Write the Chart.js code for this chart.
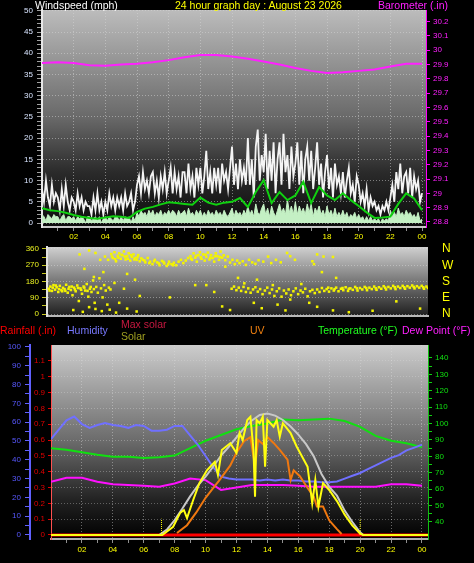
<!DOCTYPE html>
<html>
<head>
<meta charset="utf-8">
<script src="https://cdn.jsdelivr.net/npm/chart.js@4.4.0/dist/chart.umd.min.js"></script>
<style>
body { margin:0; background:#000; width:474px; height:563px; overflow:hidden; position:relative; font-family:"Liberation Sans", Arial, sans-serif; }
canvas { position:absolute; left:0; }
.t { position:absolute; font-size:10.5px; line-height:10.5px; white-space:nowrap; z-index:2; }
</style>
</head>
<body>
<canvas id="windChart" width="474" height="245" style="top:0"></canvas>
<canvas id="dirChart" width="474" height="83" style="top:240px"></canvas>
<canvas id="climateChart" width="474" height="227" style="top:336px"></canvas>

<div class="t" style="left:35px;top:0;color:#ffffff">Windspeed (mph)</div>
<div class="t" style="left:175px;top:0;color:#ffff00">24 hour graph day : August 23 2026</div>
<div class="t" style="left:378px;top:0;color:#ff20ff">Barometer (.in)</div>

<div class="t" style="left:0;top:325px;color:#ff0000">Rainfall (.in)</div>
<div class="t" style="left:67px;top:325px;color:#7878ff">Humidity</div>
<div class="t" style="left:121px;top:319px;color:#c81840">Max solar</div>
<div class="t" style="left:121px;top:331px;color:#a0a020">Solar</div>
<div class="t" style="left:250px;top:325px;color:#f08010">UV</div>
<div class="t" style="left:318px;top:325px;color:#20ff20">Temperature (°F)</div>
<div class="t" style="left:402px;top:325px;color:#ff20ff">Dew Point (°F)</div>

<script>
// ---- wind speed panel ----
// gusts and speed every 7.5 min (8 per hour), average every 30 min, barometer hourly
const windGust = [
  8,5,10,6,4,9,5,7,   6,3,8,4,9,5,3,6,   5,3,7,4,6,3,5,4,   4,2,6,3,7,3,5,2,
  5,3,7,4,6,3,6,4,   6,3,7,4,5,7,3,5,   9,11,7,12,8,10,7,11,   12,7,10,6,11,8,12,7,
  10,13,7,12,8,11,6,12,   12,7,14,8,11,6,13,9,   13,7,11,17,8,12,7,13,   9,13,7,14,10,12,8,13,
  18,9,14,8,15,10,13,9,   20,9,15,6,18,22,10,16,   12,21,8,17,10,19,7,15,   19,9,21,12,16,8,18,11,
  14,19,9,17,7,15,18,10,   17,8,13,19,9,14,6,12,   16,8,13,6,14,9,11,7,   12,6,10,13,7,9,5,11,
  9,5,7,4,8,3,6,4,   5,3,4,2,4,3,5,3,   6,9,5,12,8,14,7,11,   12,7,13,6,11,8,10,5,   7
];
const windSpeed = [
  2,1.5,0.5,2,1.5,1,2,1.5,   1.5,0.5,1.5,2,0.5,1.5,1.5,1,   1.5,0.5,1.5,1,1.5,1,0,1.5,   1.5,0.5,1,1.5,0.5,1.5,0,1,
  1.5,0.5,1.5,1,0.5,1.5,1.5,0.5,   1.5,0.5,1.5,1,1.5,0,1.5,0.5,   2.5,1.5,3,2,2.5,1.5,3,2,   3,1.5,2.5,2,3,1.5,2.5,2,
  3,2,3,2.5,1.5,3,2,2.5,   3,1.5,3.5,2,2.5,1.5,3,2,   3,1.5,2.5,1.5,3,2,2.5,1.5,   3,2,2.5,1.5,3,2,1.5,2.5,
  3.5,1.5,3,2,2.5,1.5,3,2,   4,2,3,1.5,4.5,2.5,2,3.5,   4.5,2,3.5,1.5,4,2.5,1.5,3,   4.5,2.5,3.5,2,5.5,2.5,4,2,
  5,2,4,2.5,3.5,2,4.5,2.5,   4.5,1.5,3.5,2.5,4,2,3,1.5,   4,2,3,1.5,3.5,1.5,2.5,1.5,   3,1.5,2.5,1,2,1.5,2.5,1,
  2,1,1.5,0.5,1.5,0.5,1.5,0.5,   1,0.5,1,0,1,0.5,1,0.5,   3,1.5,2.5,1.5,3.5,2,2.5,1.5,   3,2,2.5,1.5,2,1,2.5,0.5,   1
];
const windAvg = [
  3.5,3.0, 2.8,2.4, 1.9,1.5, 1.2,1.0, 1.3,1.6, 1.5,1.2,
  2.6,3.4, 3.8,4.4, 4.9,4.7, 4.5,4.3, 6.0,4.8, 4.3,4.8,
  5.0,5.9, 3.8,7.3, 10.1,4.7, 7.3,5.4, 6.5,9.7, 4.7,8.5,
  6.5,5.4, 7.0,5.4, 4.0,2.5, 1.2,1.3, 1.5,4.5, 7.0,5.8, 3.0
];
const barometer = [
  29.91, 29.915, 29.91, 29.895, 29.89, 29.9, 29.905, 29.915, 29.93, 29.95, 29.965, 29.965,
  29.955, 29.94, 29.92, 29.9, 29.875, 29.855, 29.84, 29.845, 29.855, 29.865, 29.885, 29.905, 29.905
];

// ---- wind direction panel: [hour, degrees] ----
const windDir = [
  [0.05,140],[0.15,152],[0.25,128],[0.35,160],[0.45,135],[0.55,148],[0.65,122],[0.75,156],[0.85,132],[0.95,145],
  [0.1,130],[0.3,146],[0.5,158],[0.7,138],[0.9,126],
  [1.05,138],[1.15,162],[1.25,118],[1.35,150],[1.45,133],[1.55,104],[1.65,146],[1.75,126],[1.85,158],[1.95,72],
  [1.1,128],[1.3,140],[1.5,152],[1.7,136],[1.9,144],
  [2.05,142],[2.15,112],[2.25,152],[2.35,130],[2.45,166],[2.55,96],[2.65,140],[2.75,122],[2.85,186],[2.95,62],
  [2.1,134],[2.3,146],[2.5,128],[2.7,150],[2.9,138],
  [3.05,150],[3.15,118],[3.25,198],[3.35,142],[3.45,92],[3.55,160],[3.65,130],[3.75,52],[3.85,146],[3.95,136],
  [1.6,22],[2.2,12],[2.6,38],[3.0,28],[3.4,16],[3.9,24],[4.3,8],[5.0,30],[5.6,14],
  [2.0,330],[2.3,250],[2.6,352],[2.9,205],[3.0,338],[3.3,300],[3.5,232],
  [3.6,318],[3.8,300],[4.0,332],[4.1,310],[4.2,342],[4.3,292],[4.4,322],[4.5,336],[4.6,306],[4.7,326],
  [4.8,346],[4.9,302],[5.0,320],[5.1,336],[5.2,296],[5.3,316],[5.4,330],[5.5,310],[5.6,300],[5.7,326],
  [4.05,318],[4.25,304],[4.45,312],[4.65,328],[4.85,318],[5.05,306],[5.25,326],[5.45,302],[5.65,314],
  [5.8,292],[5.9,308],[6.0,300],[6.15,286],[6.3,310],[6.45,290],[6.6,276],[6.75,300],[6.9,286],[7.05,270],
  [7.2,294],[7.35,280],[7.5,266],[7.65,290],[7.8,276],[7.95,284],[8.1,270],
  [6.1,296],[6.4,282],[6.7,292],[7.0,280],[7.3,288],[7.6,276],[7.9,270],
  [8.25,290],[8.4,300],[8.55,282],[8.7,296],[8.85,310],[9.0,320],[9.1,300],[9.2,336],[9.3,312],[9.4,290],
  [9.5,326],[9.6,342],[9.7,306],[9.8,330],[9.9,296],[10.0,316],[10.1,340],[10.2,302],[10.3,326],[10.4,310],
  [10.5,290],[10.6,336],[10.7,320],[10.8,300],[10.9,346],[11.0,312],[11.1,325],[11.2,298],[11.35,318],
  [9.05,306],[9.35,322],[9.65,314],[9.95,328],[10.25,312],[10.55,320],[10.85,316],
  [11.5,285],[11.65,300],[11.8,276],[11.95,296],[12.1,282],[12.3,292],[12.5,272],[12.7,300],[12.9,286],[13.1,278],[13.3,298],
  [13.6,290],[13.9,318],[14.1,282],[14.4,300],[14.7,286],[15.1,338],[15.3,320],[15.6,300],[16.7,292],[16.8,276],[17.0,330],[17.4,318],[18.0,316],
  [4.2,172],[4.5,62],[4.8,140],[5.0,222],[5.5,190],[5.8,100],[7.7,92],[9.3,160],[10.0,160],[10.5,122],
  [11.0,42],[11.2,262],[11.5,22],[12.0,200],[12.4,170],[13.0,62],[13.2,190],[13.5,32],[14.2,160],[14.5,52],
  [15.0,20],[15.3,80],[16.0,166],[16.5,62],[17.0,40],[17.3,232],[18.0,20],[18.2,200],[19.0,10],[20.5,18],[22.0,70],[23.5,30],
  [11.6,140],[11.75,152],[11.9,132],[12.05,146],[12.2,128],[12.35,150],[12.5,122],[12.65,142],[12.8,118],[12.95,136],
  [13.1,148],[13.25,124],[13.4,138],[13.55,110],[13.7,130],[13.85,146],[14.0,116],[14.15,136],[14.3,100],[14.45,126],
  [14.6,142],[14.75,96],[14.9,130],[15.05,114],[15.2,136],[15.35,104],[15.5,126],[15.65,142],[15.8,110],[15.95,130],
  [16.1,120],[16.25,140],[16.4,98],[16.55,126],[16.7,134],[16.85,116],[17.0,136],[17.15,122],[17.3,144],[17.45,128],
  [17.6,138],[17.75,124],[17.9,142],[18.05,130],[18.2,146],[18.35,126],[18.5,140],[18.65,132],[18.8,148],[18.95,128],
  [19.1,142],[19.25,134],[19.4,150],[19.55,130],[19.7,144],[19.85,136],[20.0,150],[20.15,132],[20.3,146],[20.45,138],
  [20.6,152],[20.75,134],[20.9,148],[21.05,140],[21.2,154],[21.35,136],[21.5,150],[21.65,142],[21.8,156],[21.95,138],
  [22.1,152],[22.25,144],[22.4,156],[22.55,140],[22.7,154],[22.85,146],[23.0,158],[23.15,142],[23.3,154],[23.45,146],
  [23.6,156],[23.75,140],[23.9,152],[24.0,144],
  [17.7,146],[18.1,138],[18.6,144],[19.0,140],[19.5,142],[20.1,144],[20.7,142],[21.3,146],[21.9,148],[22.5,148],[23.1,150],[23.7,148]
];
const compass = {0: 'N', 90: 'E', 180: 'S', 270: 'W', 360: 'N'};

// ---- climate panel ----
const rainHours = [0, 24.4];
const rainfall = [0, 0];
const humidity = [   // every 30 min
  51,56, 61,63, 59,57, 58.5,59.5, 58.5,58, 57,58.5, 58,55.5, 55.5,56, 58,58, 53,48, 42,36, 31,30,
  29.5,29.5, 29.5,29, 29.5,29, 29.5,29, 29,28.5, 28.5,28, 28,28.5, 30,31.5, 33,35, 37,39, 41,42.5, 45,46.5, 48
];
const temperature = [   // hourly
  85, 84, 82.5, 81, 79.8, 79.8, 79, 79.5, 80.5, 85, 89.5, 93, 96.5,
  98.5, 100, 102.5, 102, 102.5, 103, 101.5, 98, 92.5, 89.5, 88, 85.5
];
const dewPoint = [   // hourly
  64.5, 67, 67, 64.5, 63, 62.5, 62, 61.5, 63.5, 66.5, 65.5, 59.5, 61,
  62.5, 62.5, 62.5, 62, 61.5, 61.5, 61.5, 61.5, 61.5, 63, 63, 62
];
const maxSolarHours = [0,7.0,7.5,8,8.5,9,9.5,10,10.5,11,11.5,12,12.5,13,13.5,14,14.5,15,15.5,16,16.5,17,17.5,18,18.5,19,19.5,20,20.2,24.4];
const maxSolar = [0,0,40,110,195,285,365,430,505,585,650,720,790,845,885,895,880,848,800,740,670,580,450,355,290,180,96,20,0,0];
const solarHours = [0,7.2,7.9,8.35,8.6,8.8,9.2,9.6,10.1,10.6,10.8,11.05,11.6,12.0,12.2,12.4,12.7,12.9,13.1,13.2,13.3,13.5,13.7,13.85,14.0,14.4,14.6,14.8,15.0,15.5,15.9,16.6,16.9,17.1,17.3,17.6,18.0,18.5,19.0,19.5,20.0,20.2,24.4];
const solar = [0,0,61,162,184,125,258,383,479,540,442,627,676,605,752,700,848,872,627,282,848,824,872,503,848,799,848,725,824,752,651,503,234,406,209,383,332,250,150,70,10,0,0];
const uvHours = [8.15,8.8,9.4,10,10.5,10.9,11.6,12,12.5,12.9,13.2,13.4,13.7,14,14.4,14.8,15.3,15.5,15.7,16.1,16.6,17,17.2,17.6,18,18.5,18.8];
const uvIndex = [0.2,1.0,2.3,3.8,4.8,5.6,7.1,8.4,9.6,10.0,7.0,9.7,9.3,10.0,9.4,8.7,7.7,5.6,6.6,6.0,4.8,3.9,2.9,2.9,1.5,0.6,0.1];
const sunrise = 7.15;
const sunset = 20.0;
const sunMarkHeight = 120;

// ---- helpers ----
function toPoints(values, step) { return values.map((v, i) => ({x: i * step, y: v})); }
function pairPoints(hours, values) { return hours.map((h, i) => ({x: h, y: values[i]})); }
function range(from, to, step) {
  const out = [];
  for (let v = from; v <= to + step / 1000; v += step) out.push(Math.round(v * 1000) / 1000);
  return out;
}
function fixWidth(w) { return scale => { scale.width = w; }; }
function fixHeight(h) { return scale => { scale.height = h; }; }
function setTicks(list) { return scale => { scale.ticks = list.map(v => ({value: v})); }; }
function hourLabel(v) { return v % 2 === 0 ? String(v % 24).padStart(2, '0') : ''; }
function evenHourGrid(color) { return ctx => (ctx.tick && ctx.tick.value % 2 === 0) ? color : 'transparent'; }

const plotBackground = {
  id: 'plotBackground',
  beforeDraw(chart, args, opts) {
    const {ctx, chartArea: a} = chart;
    const g = ctx.createLinearGradient(0, a.top, 0, a.bottom);
    opts.stops.forEach(s => g.addColorStop(s[0], s[1]));
    ctx.save();
    ctx.fillStyle = g;
    ctx.fillRect(a.left, a.top, a.right - a.left, a.bottom - a.top);
    ctx.restore();
  }
};

Chart.defaults.font.family = '"Liberation Sans", Arial, sans-serif';
Chart.defaults.font.size = 8;
Chart.defaults.font.lineHeight = 1;
const common = {
  responsive: false, animation: false, events: [],
  elements: {point: {radius: 0}, line: {tension: 0}},
};

// wind speed + barometer
new Chart(document.getElementById('windChart'), {
  type: 'line',
  data: { datasets: [
    {data: toPoints(barometer, 1), yAxisID: 'baro', borderColor: '#ff20ff', borderWidth: 2},
    {data: toPoints(windAvg, 0.5), yAxisID: 'speed', borderColor: '#10d010', borderWidth: 2},
    {data: toPoints(windSpeed, 0.125), yAxisID: 'speed', borderColor: '#c4f0c4', backgroundColor: '#c4f0c4', borderWidth: 1, fill: 'origin'},
    {data: toPoints(windGust, 0.125), yAxisID: 'speed', borderColor: '#f4f4f4', borderWidth: 1.8}
  ]},
  options: Object.assign({}, common, {
    layout: {padding: {top: 10, left: 0, right: 0, bottom: 0}},
    plugins: {legend: {display: false}, tooltip: {enabled: false},
      plotBackground: {stops: [[0, '#bcbcbc'], [0.5, '#686868'], [0.75, '#2a2a2a'], [1, '#0c0c0c']]}},
    scales: {
      x: {type: 'linear', min: 0, max: 24.25, afterFit: fixHeight(18), afterBuildTicks: setTicks(range(1, 24, 1)),
        ticks: {color: '#ffff00', autoSkip: false, maxRotation: 0, padding: 2, callback: hourLabel},
        grid: {color: evenHourGrid('rgba(215,215,215,0.5)'), tickColor: '#909090', tickLength: 4},
        border: {color: '#c8c8c8', width: 2, dash: [1, 2]}},
      speed: {position: 'left', min: -0.94, max: 50.2, afterFit: fixWidth(42), afterBuildTicks: setTicks(range(0, 50, 1)),
        ticks: {color: '#d8e4ff', autoSkip: false, padding: 4, callback: v => v % 5 === 0 ? String(v) : ''},
        grid: {color: ctx => (ctx.tick && ctx.tick.value % 5 === 0) ? 'rgba(215,215,215,0.5)' : 'transparent', tickColor: '#a0a0a0', tickLength: 5},
        border: {color: '#e8e8e8', width: 2, dash: [1, 2]}},
      baro: {position: 'right', min: 28.765, max: 30.28, afterFit: fixWidth(48), afterBuildTicks: setTicks(range(28.8, 30.2, 0.1)),
        ticks: {color: '#ff20ff', autoSkip: false, padding: 3, callback: v => String(v)},
        grid: {drawOnChartArea: false, tickColor: '#ff00ff', tickLength: 4},
        border: {color: '#ff00ff', width: 1}}
    }
  }),
  plugins: [plotBackground]
});

// wind direction
new Chart(document.getElementById('dirChart'), {
  type: 'scatter',
  data: { datasets: [
    {data: windDir.map(p => ({x: p[0], y: p[1]})), backgroundColor: '#f4f400', borderWidth: 0, pointRadius: 1.8, pointStyle: 'rect'}
  ]},
  options: Object.assign({}, common, {
    layout: {padding: {top: 7, left: 0, right: 0, bottom: 0}},
    plugins: {legend: {display: false}, tooltip: {enabled: false},
      plotBackground: {stops: [[0, '#d0d0d0'], [1, '#1e1e1e']]}},
    scales: {
      x: {type: 'linear', min: -0.06, max: 24, afterFit: fixHeight(4),
        ticks: {display: false}, grid: {drawOnChartArea: false, drawTicks: false},
        border: {color: '#b8b8b8', width: 2}},
      y: {position: 'left', min: -11, max: 371, afterFit: fixWidth(47), afterBuildTicks: setTicks(range(0, 360, 45)),
        ticks: {color: '#e8f020', autoSkip: false, padding: 3, callback: v => v % 90 === 0 ? String(v) : ''},
        grid: {color: ctx => (ctx.tick && ctx.tick.value % 90 === 0) ? 'rgba(225,225,225,0.45)' : 'transparent', tickColor: '#c8c820', tickLength: 5},
        border: {color: '#e0e0e0', width: 2, dash: [1, 2]}},
      compass: {position: 'right', min: -11, max: 371, afterFit: fixWidth(46), afterBuildTicks: setTicks(range(0, 360, 90)),
        ticks: {color: '#ffff00', autoSkip: false, padding: 1, font: {size: 12, lineHeight: 1}, callback: v => compass[v]},
        grid: {drawOnChartArea: false, tickColor: 'transparent', tickLength: 13}, border: {display: false}}
    }
  }),
  plugins: [plotBackground]
});

// rain, humidity, solar, UV, temperature, dew point
new Chart(document.getElementById('climateChart'), {
  type: 'line',
  data: { datasets: [
    {data: [{x: sunrise, y: 0}, {x: sunrise, y: sunMarkHeight}], yAxisID: 'solar', borderColor: '#ffff00', borderWidth: 1, borderDash: [1, 1]},
    {data: [{x: sunset, y: 0}, {x: sunset, y: sunMarkHeight}], yAxisID: 'solar', borderColor: '#ffff00', borderWidth: 1, borderDash: [1, 1]},
    {data: pairPoints(solarHours, solar), yAxisID: 'solar', borderColor: '#ffff10', borderWidth: 2},
    {data: pairPoints(uvHours, uvIndex), yAxisID: 'uv', borderColor: '#f07810', borderWidth: 2},
    {data: pairPoints(maxSolarHours, maxSolar), yAxisID: 'solar', borderColor: '#c8c8c8', borderWidth: 2},
    {data: toPoints(humidity, 0.5), yAxisID: 'humidity', borderColor: '#7070ff', borderWidth: 2},
    {data: toPoints(dewPoint, 1), yAxisID: 'temp', borderColor: '#ff10ff', borderWidth: 2},
    {data: toPoints(temperature, 1), yAxisID: 'temp', borderColor: '#10e010', borderWidth: 2},
    {data: pairPoints(rainHours, rainfall), yAxisID: 'rain', borderColor: '#ff0000', borderWidth: 3}
  ]},
  options: Object.assign({}, common, {
    layout: {padding: {top: 9, left: 0, right: 0, bottom: 0}},
    plugins: {legend: {display: false}, tooltip: {enabled: false},
      plotBackground: {stops: [[0, '#cccccc'], [0.5, '#6a6a6a'], [0.8, '#222222'], [1, '#000000']]}},
    scales: {
      x: {type: 'linear', min: 0, max: 24.39, afterFit: fixHeight(24), afterBuildTicks: setTicks(range(1, 24, 1)),
        ticks: {color: '#ffff00', autoSkip: false, maxRotation: 0, padding: 3, callback: hourLabel},
        grid: {color: evenHourGrid('rgba(220,220,220,0.45)'), tickColor: '#909090', tickLength: 4},
        border: {color: '#b0b0b0', width: 2, dash: [1, 2]}},
      rain: {position: 'left', weight: 0, min: -0.0253, max: 1.201, afterFit: fixWidth(21), afterBuildTicks: setTicks(range(0, 1.1, 0.1)),
        ticks: {color: '#e00000', autoSkip: false, padding: 3, callback: v => String(v)},
        grid: {color: 'rgba(220,220,220,0.35)', tickColor: '#e00000', tickLength: 3},
        border: {color: '#ff5050', width: 1, dash: [1, 2]}},
      humidity: {position: 'left', weight: 1, min: -2.13, max: 101.06, afterFit: fixWidth(30), afterBuildTicks: setTicks(range(0, 100, 5)),
        ticks: {color: '#5858ff', autoSkip: false, padding: 4, callback: v => v % 10 === 0 ? String(v) : ''},
        grid: {drawOnChartArea: false, tickColor: '#6060ff', tickLength: 5},
        border: {color: '#6060ff', width: 2}},
      temp: {position: 'right', min: 29.6, max: 147.9, afterFit: fixWidth(46), afterBuildTicks: setTicks(range(40, 140, 5)),
        ticks: {color: '#10e010', autoSkip: false, padding: 3, callback: v => v % 10 === 0 ? String(v) : ''},
        grid: {drawOnChartArea: false, tickColor: '#10d010', tickLength: 4},
        border: {color: '#10c010', width: 1}},
      solar: {display: false, min: -29.5, max: 1401},
      uv: {display: false, min: -0.41, max: 19.4}
    }
  }),
  plugins: [plotBackground]
});
</script>
</body>
</html>
